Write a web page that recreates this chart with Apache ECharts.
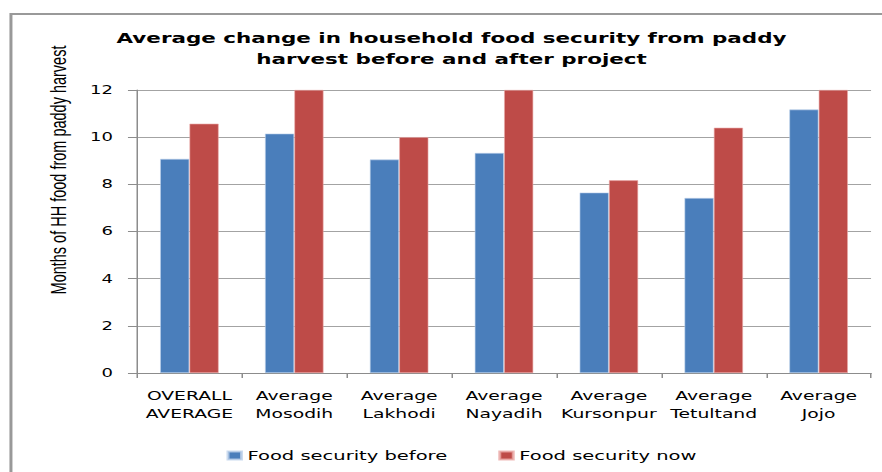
<!DOCTYPE html>
<html>
<head>
<meta charset="utf-8">
<script src="https://cdn.jsdelivr.net/npm/echarts@6/dist/echarts.min.js"></script>
<style>
  html, body { margin: 0; padding: 0; background: #fff; overflow: hidden; }
  /* The chart is laid out on a narrower canvas and widened horizontally,
     giving the wide, stretched lettering of the original figure. */
  #wrap { width: 882px; height: 472px; overflow: hidden; }
  #chart { width: 588px; height: 472px; transform: scaleX(1.5); transform-origin: 0 0; }
</style>
</head>
<body>
<div id="wrap"><div id="chart"></div></div>
<script>
// Villages surveyed (category axis labels)
const categories = [
  'OVERALL\nAVERAGE',
  'Average\nMosodih',
  'Average\nLakhodi',
  'Average\nNayadih',
  'Average\nKursonpur',
  'Average\nTetultand',
  'Average\nJojo'
];

// Months of household food from paddy harvest
const foodSecurityBefore = [9.08, 10.15, 9.05, 9.33, 7.65, 7.42, 11.17];
const foodSecurityNow    = [10.57, 12, 10.0, 12, 8.17, 10.4, 12];

// Value axis
const yMin = 0;
const yMax = 12;
const yStep = 2;

const titleText = 'Average change in household food security from paddy\nharvest before and after project';
const yAxisTitle = 'Months of HH food from paddy harvest';
const seriesNames = ['Food security before', 'Food security now'];

const chart = echarts.init(document.getElementById('chart'), null, { renderer: 'svg' });

const labelFont = 'DejaVu Sans';

chart.setOption({
  backgroundColor: '#ffffff',
  animation: false,
  title: {
    text: titleText,
    left: 301,
    top: 27,
    padding: 0,
    textAlign: 'center',
    textStyle: {
      fontFamily: 'DejaVu Sans',
      fontWeight: 'bold',
      fontSize: 14.3,
      lineHeight: 21.5,
      color: '#000'
    }
  },
  legend: {
    data: seriesNames,
    left: 151,
    top: 449,
    padding: 0,
    itemWidth: 9,
    itemHeight: 8,
    itemGap: 34,
    icon: 'rect',
    textStyle: { fontFamily: labelFont, fontSize: 13, color: '#000', padding: [0, 0, 0, -1] }
  },
  grid: { left: 91.3, right: 7.3, top: 90, bottom: 99, containLabel: false },
  xAxis: {
    type: 'category',
    data: categories,
    boundaryGap: true,
    axisLine: { lineStyle: { color: '#8c8c8c', width: 1 } },
    axisTick: { show: true, length: 5, interval: 0, lineStyle: { color: '#8c8c8c' } },
    axisLabel: {
      interval: 0,
      margin: 14,
      fontFamily: labelFont,
      fontSize: 12.5,
      lineHeight: 18,
      color: '#000'
    }
  },
  yAxis: {
    type: 'value',
    min: yMin,
    max: yMax,
    interval: yStep,
    axisLine: { show: true, lineStyle: { color: '#8c8c8c', width: 1 } },
    axisTick: { show: true, length: 6, lineStyle: { color: '#8c8c8c' } },
    axisLabel: { margin: 16, fontFamily: labelFont, fontSize: 12, color: '#000' },
    splitLine: { show: true, lineStyle: { color: '#a3a3a3', width: 1 } }
  },
  series: [
    {
      name: seriesNames[0],
      type: 'bar',
      data: foodSecurityBefore,
      barGap: '0%',
      barCategoryGap: '44%',
      itemStyle: { color: '#4a7ebb', borderColor: 'rgba(190,210,235,0.8)', borderWidth: 0.6 }
    },
    {
      name: seriesNames[1],
      type: 'bar',
      data: foodSecurityNow,
      barGap: '0%',
      barCategoryGap: '44%',
      itemStyle: { color: '#be4b48', borderColor: 'rgba(235,170,168,0.8)', borderWidth: 0.6 }
    }
  ],
  graphic: [
    {
      // chart frame: left and top edges
      type: 'polyline',
      silent: true,
      shape: { points: [[7.3, 472], [7.3, 14], [588, 14]] },
      style: { stroke: '#999999', lineWidth: 2, fill: null }
    },
    {
      type: 'text',
      silent: true,
      x: 38.7,
      y: 170,
      rotation: Math.PI / 2,
      style: {
        text: yAxisTitle,
        fontFamily: 'Liberation Sans',
        fontSize: 14.5,
        fill: '#000',
        align: 'center',
        verticalAlign: 'middle'
      }
    }
  ]
});
</script>
</body>
</html>
